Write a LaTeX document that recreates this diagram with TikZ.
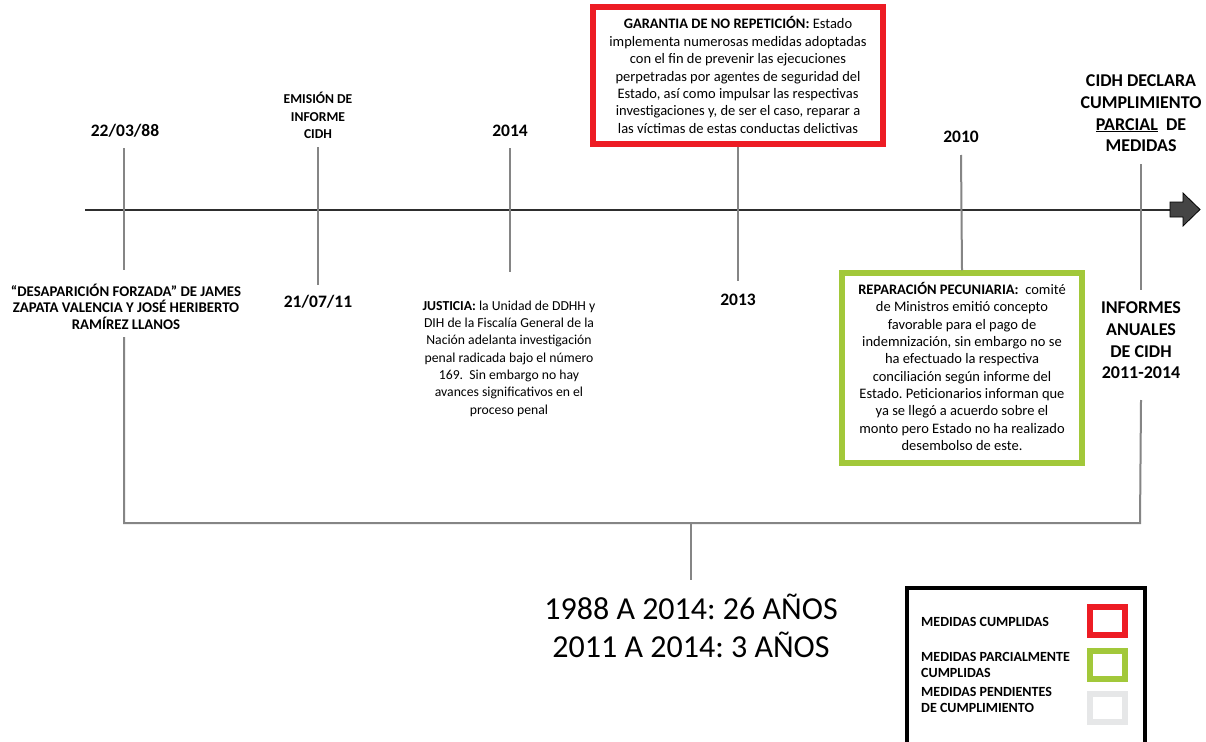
\documentclass[tikz,border=0pt]{standalone}
\usepackage{fontspec}
\setmainfont{Carlito}
\frenchspacing
\definecolor{redbox}{HTML}{ED1C24}
\definecolor{greenbox}{HTML}{A2C83A}
\definecolor{graybox}{HTML}{E6E7E8}
\definecolor{tickgray}{HTML}{858585}
\definecolor{axisgray}{HTML}{2E2E2E}
\definecolor{arrowfill}{HTML}{454545}
\begin{document}
\begin{tikzpicture}[x=1pt,y=-1pt,
  datelbl/.style={inner sep=0pt, font=\bfseries\fontsize{17.5}{21}\selectfont},
  bigcap/.style={inner sep=0pt, align=center, font=\bfseries\fontsize{18}{21.6}\selectfont},
  smalltxt/.style={inner sep=0pt, align=center, font=\fontsize{13.7}{17.3}\selectfont},
  boxtxt/.style={inner sep=0pt, align=center, font=\fontsize{14.5}{17.35}\selectfont},
  legtxt/.style={inner sep=0pt, align=left, anchor=west, font=\bfseries\fontsize{14}{15.5}\selectfont},
  tickline/.style={draw=tickgray, line width=2pt},
  axisline/.style={draw=axisgray, line width=2.2pt},
  framed/.style={draw=#1, line width=5.5pt, fill=white, inner sep=0pt},
  legsq/.style={draw=#1, line width=6pt, minimum width=35pt, minimum height=28pt, inner sep=0pt}
]
\useasboundingbox (0,0) rectangle (1206,741);
\fill[white] (0,0) rectangle (1206,741);

% ---- main axis and arrow ----
\coordinate (axL) at (85,210);
\coordinate (axR) at (1172,210);
\draw[axisline] (axL) -- (axR);
\draw[fill=arrowfill, draw=black, line width=0.8pt]
  (1170,202) -- (1183,202) -- (1183,193) -- (1200,209.5) -- (1183,226) -- (1183,217) -- (1170,217) -- cycle;

% ---- event 1 ----
\node[datelbl] (d1) at (125,131) {22/03/88};
\node[inner sep=0pt, align=center, font=\bfseries\fontsize{14.8}{16.5}\selectfont] (e1) at (126,306.5)
  {“DESAPARICIÓN FORZADA” DE JAMES\\ZAPATA VALENCIA Y JOSÉ HERIBERTO\\RAMÍREZ LLANOS};
\coordinate (t1a) at (124,148);
\coordinate (t1b) at (124,270);
\coordinate (t1c) at (124,337);
\coordinate (bl) at (124,523);
\draw[tickline] (t1a) -- (t1b);

% ---- event 2 ----
\node[inner sep=0pt, align=center, font=\bfseries\fontsize{13.6}{17.3}\selectfont] (e2) at (318,115.5)
  {EMISIÓN DE\\INFORME\\CIDH};
\node[datelbl] (d2) at (318,302) {21/07/11};
\coordinate (t2a) at (318,147);
\coordinate (t2b) at (318,285);
\draw[tickline] (t2a) -- (t2b);

% ---- event 3 ----
\node[datelbl] (d3) at (510,131) {2014};
\node[smalltxt] (e3) at (509,358.5)
  {\textbf{JUSTICIA:} la Unidad de DDHH y\\DIH de la Fiscalía General de la\\Nación adelanta investigación\\penal radicada bajo el número\\169.\ \ Sin embargo no hay\\avances significativos en el\\proceso penal};
\coordinate (t3a) at (510,148);
\coordinate (t3b) at (510,272);
\draw[tickline] (t3a) -- (t3b);

% ---- event 4 ----
\node[framed=redbox, minimum width=290pt, minimum height=137pt] (rb) at (738,75.5) {};
\node[boxtxt] (e4) at (738,75) {\textbf{GARANTIA DE NO REPETICIÓN:} Estado\\implementa numerosas medidas adoptadas\\con el fin de prevenir las ejecuciones\\perpetradas por agentes de seguridad del\\Estado, así como impulsar las respectivas\\investigaciones y, de ser el caso, reparar a\\las víctimas de estas conductas delictivas};
\node[datelbl] (d4) at (738,300) {2013};
\coordinate (t4b) at (738,281);
\draw[tickline] (rb.south) -- (t4b);

% ---- event 5 ----
\node[datelbl] (d5) at (961,137) {2010};
\node[framed=greenbox, minimum width=240pt, minimum height=190pt] (gb) at (962,368) {};
\node[boxtxt] (e5) at (962,366.5) {\textbf{REPARACIÓN PECUNIARIA:}\ \ comité\\de Ministros emitió concepto\\favorable para el pago de\\indemnización, sin embargo no se\\ha efectuado la respectiva\\conciliación según informe del\\Estado. Peticionarios informan que\\ya se llegó a acuerdo sobre el\\monto pero Estado no ha realizado\\desembolso de este.};
\coordinate (t5a) at (961,155);
\draw[tickline] (t5a) -- (gb.north);

% ---- event 6 ----
\node[bigcap] (e6) at (1141,113.5) {CIDH DECLARA\\CUMPLIMIENTO\\\underline{PARCIAL}\ \ DE\\MEDIDAS};
\node[bigcap] (e6b) at (1141,340.5) {INFORMES\\ANUALES\\DE CIDH\\2011-2014};
\coordinate (t6a) at (1141,164);
\coordinate (t6b) at (1141,290);
\coordinate (t6c) at (1141,400);
\coordinate (br) at (1140,523);
\draw[tickline] (t6a) -- (t6b);

% ---- bracket ----
\draw[tickline] (t1c) -- (bl) -- (br) -- (t6c);
\coordinate (bm) at (691,523);
\coordinate (bmb) at (691,580);
\draw[tickline] (bm) -- (bmb);
\node[inner sep=0pt, align=center, font=\fontsize{32}{38}\selectfont] (sum) at (691,626)
  {1988 A 2014: 26 AÑOS\\2011 A 2014: 3 AÑOS};

% ---- legend ----
\coordinate (lgA) at (907,745);
\coordinate (lgB) at (907,588);
\coordinate (lgC) at (1145,588);
\coordinate (lgD) at (1145,745);
\draw[black, line width=4pt] (lgA) -- (lgB) -- (lgC) -- (lgD);
\node[legtxt] (l1) at (921,622) {MEDIDAS CUMPLIDAS};
\node[legsq=redbox] (s1) at (1107.5,621) {};
\node[legtxt] (l2) at (921,665) {MEDIDAS PARCIALMENTE\\CUMPLIDAS};
\node[legsq=greenbox] (s2) at (1107.5,665) {};
\node[legtxt] (l3) at (921,700) {MEDIDAS PENDIENTES\\DE CUMPLIMIENTO};
\node[legsq=graybox] (s3) at (1107.5,708) {};
\end{tikzpicture}
\end{document}
